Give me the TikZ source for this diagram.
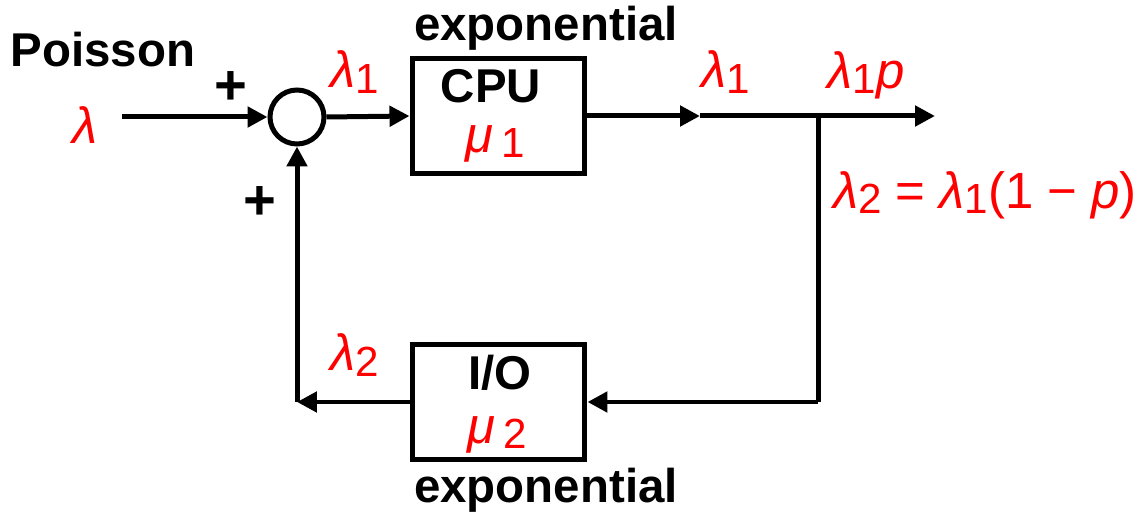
\documentclass[tikz,border=0pt]{standalone}
\usepackage{fontspec}
\setmainfont{Liberation Sans}
\usetikzlibrary{arrows.meta}
\newcommand{\lam}{\textit{λ}}
\newcommand{\mmu}{\textit{μ}}
\newcommand{\sbx}[1]{\raisebox{-0.2ex}{\fontsize{24}{26}\selectfont #1}}
\begin{document}
\begin{tikzpicture}[x=0.02cm,y=-0.02cm,
  line width=0.1cm,
  arr/.style={-{Triangle[length=0.4cm,width=0.4cm]}},
  blk/.style={draw,rectangle,minimum width=3.46cm,minimum height=2.3cm,inner sep=0pt},
  lbl/.style={font=\fontsize{27}{30}\selectfont\bfseries,inner sep=0pt},
  plus/.style={font=\fontsize{32}{34}\selectfont\bfseries,inner sep=0pt},
  red/.style={text=red,font=\fontsize{29}{32}\selectfont,inner sep=0pt}]
\useasboundingbox (0,0) rectangle (1147,513);
% blocks
\node[draw,circle,minimum size=1.08cm,inner sep=0pt] (sum) at (297,117) {};
\node[blk] (cpu) at (498.5,116) {};
\node[blk] (io) at (498.5,402) {};
% coordinates
\coordinate (in) at (122,117);
\coordinate (mid) at (700,116);
\coordinate (junc) at (818,116);
\coordinate (out) at (935,116);
\coordinate (jr) at (818,402);
\coordinate (corner) at (297,402);
% connectors
\draw[arr] (in) -- (sum.west);
\draw[arr] (sum.east) -- (cpu.west);
\draw[arr] (cpu.east) -- (mid);
\draw (mid) -- (junc);
\draw[arr] (junc) -- (out);
\draw (junc) -- (jr);
\draw[arr] (jr) -- (io.east);
\draw[arr] (io.west) -- (corner);
\draw[arr] (corner) -- (sum.south);
% texts
\node[lbl] (poisson) at (103,50) {Poisson};
\node[red] (lin) at (85,125) {\lam};
\node[plus] (plus1) at (231,88) {+};
\node[plus] (plus2) at (260,203) {+};
\node[red] (l1a) at (355,72) {\lam\sbx{1}};
\node[lbl] (exp1) at (546,28) {exponential};
\node[lbl] (cputxt) at (491,86) {CPU};
\node[red] (mu1) at (495,144) {\mmu\,\sbx{1}};
\node[red] (l1b) at (726,72) {\lam\sbx{1}};
\node[red] (l1p) at (866,75) {\lam\sbx{1}\textit{p}};
\node[red] (l2eq) at (985,195) {\lam\sbx{2} = \lam\sbx{1}(1 − \textit{p})};
\node[lbl] (iotxt) at (500,373) {I/O};
\node[red] (mu2) at (497,435) {\mmu\,\sbx{2}};
\node[red] (l2) at (355,355) {\lam\sbx{2}};
\node[lbl] (exp2) at (546,490) {exponential};
\end{tikzpicture}
\end{document}
